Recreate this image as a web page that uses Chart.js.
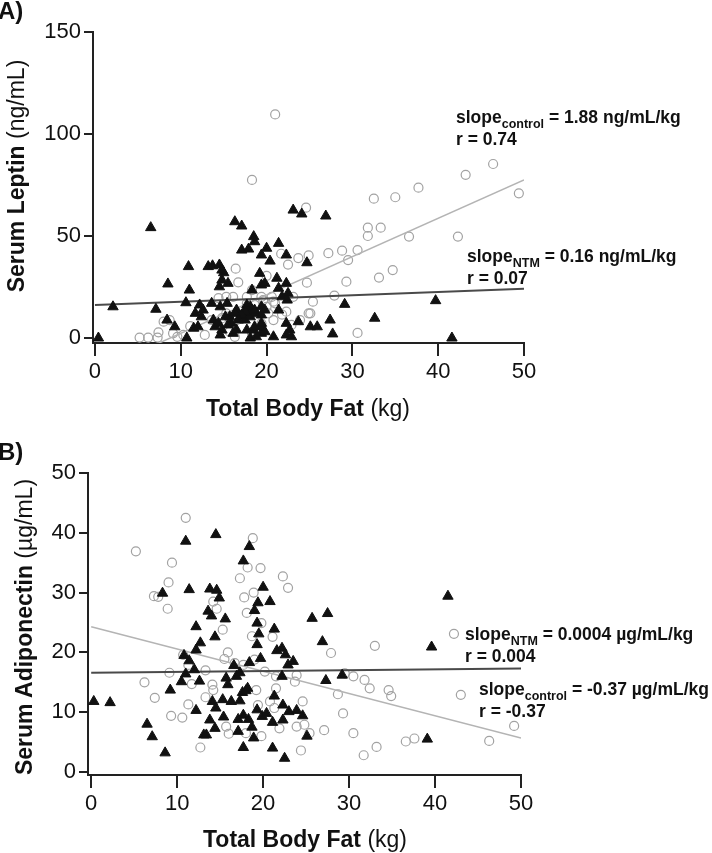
<!DOCTYPE html>
<html>
<head>
<meta charset="utf-8">
<script src="https://cdn.jsdelivr.net/npm/chart.js@4/dist/chart.umd.min.js"></script>
<style>
  html, body { margin: 0; padding: 0; background: #fff; }
  #page { position: relative; width: 712px; height: 853px; overflow: hidden; font-family: "Liberation Sans", Arial, sans-serif; color: #111; }
  canvas { position: absolute; left: 0; }
  .lbl { position: absolute; white-space: nowrap; line-height: 1; }
  .panel { font-weight: bold; font-size: 24px; }
  .xtitle { width: 400px; text-align: center; font-size: 23px; line-height: 23px; }
  .ytitle { font-size: 23px; line-height: 23px; transform: translate(-50%, -50%) rotate(-90deg); }
  .ann { font-weight: bold; font-size: 17.5px; line-height: 22px; }
  .ann sub { font-size: 12.5px; position: relative; top: 5px; vertical-align: baseline; line-height: 0; }
</style>
</head>
<body>
<div id="page">
  <canvas id="leptinChart" width="712" height="420" style="top:0"></canvas>
  <canvas id="adipoChart" width="712" height="433" style="top:420px"></canvas>

  <div class="lbl panel" style="left:-2px; top:-1px">A)</div>
  <div class="lbl ytitle" style="left:16px; top:176px"><b>Serum Leptin</b> (ng/mL)</div>
  <div class="lbl xtitle" style="left:108px; top:397px"><b>Total Body Fat</b> (kg)</div>
  <div class="lbl ann" style="left:456px; top:106px">slope<sub>control</sub> = 1.88 ng/mL/kg<br>r = 0.74</div>
  <div class="lbl ann" style="left:467px; top:245px">slope<sub>NTM</sub> = 0.16 ng/mL/kg<br>r = 0.07</div>

  <div class="lbl panel" style="left:-2px; top:440px">B)</div>
  <div class="lbl ytitle" style="left:24px; top:627px"><b>Serum Adiponectin</b> (µg/mL)</div>
  <div class="lbl xtitle" style="left:105px; top:828px"><b>Total Body Fat</b> (kg)</div>
  <div class="lbl ann" style="left:465px; top:623px">slope<sub>NTM</sub> = 0.0004 µg/mL/kg<br>r = 0.004</div>
  <div class="lbl ann" style="left:479px; top:678px">slope<sub>control</sub> = -0.37 µg/mL/kg<br>r = -0.37</div>
</div>

<script>
// Axis ticks
const fatTicks = [0, 10, 20, 30, 40, 50];
const leptinTicks = [0, 50, 100, 150];
const adipoTicks = [0, 10, 20, 30, 40, 50];

// Panel A: leptin (ng/mL) vs total body fat (kg), [fat, leptin]
const leptinControl = [
    [21.0, 109.6], [18.3, 77.5], [46.4, 85.3], [43.2, 80.0], [49.4, 70.9], [37.7, 73.7],
    [35.0, 69.0], [32.5, 68.3], [31.8, 54.1], [33.3, 54.1], [31.8, 50.0], [36.6, 49.7],
    [42.3, 49.7], [28.8, 42.8], [30.6, 43.1], [29.5, 38.2], [27.2, 41.6], [34.7, 33.3],
    [33.1, 29.6], [29.3, 27.6], [27.9, 20.8], [30.6, 2.5], [24.6, 63.9], [24.9, 40.5],
    [23.7, 39.2], [21.7, 41.3], [22.5, 36.0], [16.4, 34.0], [16.7, 27.3], [24.7, 27.1],
    [20.0, 30.5], [18.3, 23.5], [25.4, 17.8], [24.9, 12.1], [22.3, 12.9], [23.9, 8.8],
    [15.3, 20.2], [16.1, 20.2], [14.4, 19.5], [17.7, 20.2], [19.4, 20.2], [20.8, 17.8],
    [20.0, 15.3], [19.4, 7.2], [20.8, 8.8], [8.0, 8.0], [8.7, 8.8], [7.4, 2.8],
    [5.2, 0.2], [6.2, 0.2], [7.3, 0.2], [9.1, 2.3], [9.6, 0.6], [10.3, 1.5],
    [11.1, 5.8], [12.8, 1.5], [13.6, 8.8], [15.3, 12.1], [16.5, 8.8], [17.9, 12.1],
    [19.0, 12.1], [21.8, 11.5], [20.6, 20.2], [23.1, 20.2], [21.0, 17.0], [20.2, 12.1],
    [25.1, 12.1], [22.9, 6.4], [14.8, 9.7], [15.7, 3.1], [18.3, 2.3], [19.0, 3.1],
    [17.7, 17.0], [18.6, 16.2], [19.6, 18.6], [16.3, 0.6]
];
const leptinNTM = [
    [0.4, 0], [2.1, 15.3], [6.5, 54.1], [7.1, 14.1], [8.5, 26.5], [8.4, 8.8],
    [9.3, 5.5], [10.7, 0], [10.9, 35.0], [11.0, 23.5], [10.6, 17.3], [11.7, 12.1],
    [11.5, 4.8], [12.0, 5.5], [12.4, 10.4], [12.6, 13.7], [12.2, 16.2], [13.2, 35.0],
    [13.7, 35.4], [14.5, 35.8], [15.0, 32.0], [14.8, 28.4], [15.5, 26.8], [14.5, 25.1],
    [13.6, 17.0], [14.6, 15.3], [15.4, 17.0], [13.8, 8.8], [14.0, 5.5], [14.4, 7.2],
    [14.8, 3.9], [14.6, 1.5], [15.7, 10.4], [15.9, 7.2], [16.1, 2.3], [16.5, 3.9],
    [16.3, 57.0], [17.1, 54.9], [17.1, 43.1], [17.9, 43.6], [18.5, 49.7], [18.6, 47.2],
    [19.4, 40.7], [20.0, 44.0], [20.4, 37.7], [21.4, 46.4], [22.3, 40.7], [23.1, 62.7],
    [24.1, 60.8], [26.9, 59.8], [24.7, 36.9], [19.2, 31.7], [19.4, 26.0], [19.8, 26.8],
    [18.3, 23.5], [21.2, 29.3], [21.4, 24.4], [22.3, 26.8], [22.5, 21.9], [21.8, 20.2],
    [22.4, 18.6], [17.7, 16.2], [18.1, 15.3], [17.9, 12.9], [17.3, 12.1], [18.3, 13.7],
    [16.5, 13.7], [16.9, 10.4], [17.5, 8.8], [18.1, 10.4], [18.8, 12.1], [19.4, 15.3],
    [19.8, 13.7], [21.4, 13.7], [17.7, 3.9], [18.5, 3.9], [19.4, 2.3], [18.1, 0],
    [18.8, 0.6], [19.4, 5.5], [19.8, 3.1], [20.8, 0.6], [22.3, 7.2], [22.7, 3.9],
    [22.3, 1.5], [22.9, 0.6], [23.7, 8.0], [25.1, 5.5], [25.9, 5.5], [27.4, 8.8],
    [27.7, 2.0], [29.1, 16.5], [32.6, 9.7], [39.7, 18.3], [41.6, 0], [14.8, 33.3],
    [17.5, 12.9], [17.1, 11.3], [18.6, 13.7], [19.4, 11.3], [16.3, 12.1], [16.7, 8.8],
    [15.5, 6.4], [15.2, 10.4], [18.6, 5.5], [19.4, 7.2]
];
const leptinFitControl = [[0, -16.5], [50, 77.5]];
const leptinFitNTM = [[0, 16.2], [50, 24.2]];

// Panel B: adiponectin (µg/mL) vs total body fat (kg), [fat, adiponectin]
const adipoControl = [
    [5.2, 36.9], [11.0, 42.5], [9.4, 35.0], [9.0, 31.7], [7.3, 29.4], [7.8, 29.3],
    [8.9, 27.3], [18.8, 39.1], [18.2, 34.2], [19.7, 34.1], [17.3, 32.4], [22.3, 32.7],
    [22.9, 30.8], [18.9, 30.0], [17.8, 29.2], [14.2, 28.5], [14.6, 27.3], [18.1, 26.6],
    [15.3, 23.8], [19.8, 24.9], [21.1, 22.6], [18.7, 22.7], [15.9, 20.0], [15.5, 18.9],
    [16.7, 18.2], [17.7, 17.9], [19.0, 18.8], [20.2, 16.8], [21.5, 16.0], [23.9, 16.2],
    [23.7, 15.1], [19.2, 13.7], [21.5, 14.0], [20.8, 11.8], [21.3, 10.7], [19.4, 11.2],
    [24.6, 11.8], [23.9, 7.6], [21.9, 7.3], [24.8, 7.9], [25.4, 6.5], [24.4, 3.6],
    [19.8, 6.0], [18.0, 6.5], [15.7, 7.6], [16.0, 6.4], [12.7, 4.1], [10.6, 9.1],
    [9.3, 9.4], [11.3, 11.3], [7.4, 12.4], [6.2, 15.0], [9.1, 16.6], [13.3, 17.0],
    [13.3, 12.5], [14.2, 13.7], [14.1, 14.6], [11.7, 14.7], [10.7, 19.6], [11.3, 17.9],
    [27.9, 19.9], [27.1, 7.0], [29.3, 9.8], [28.7, 13.0], [29.5, 16.5], [30.5, 16.0],
    [31.8, 15.4], [32.4, 14.0], [33.0, 21.1], [30.5, 6.5], [31.7, 2.8], [33.2, 4.2],
    [42.2, 23.1], [34.6, 13.7], [34.9, 12.7], [43.0, 12.9], [36.6, 5.1], [37.6, 5.6],
    [46.3, 5.2], [49.2, 7.7]
];
const adipoNTM = [
    [0.3, 11.8], [2.2, 11.6], [6.5, 8.0], [7.1, 5.9], [8.6, 3.2], [8.3, 29.9],
    [11.0, 38.6], [11.4, 30.5], [14.5, 39.7], [18.4, 37.7], [17.7, 35.3], [13.8, 30.6],
    [14.6, 30.4], [14.9, 29.1], [20.0, 30.9], [19.4, 28.3], [20.8, 28.5], [13.6, 26.9],
    [19.0, 27.0], [25.7, 25.7], [27.5, 26.5], [9.2, 13.7], [10.8, 19.5], [11.4, 18.6],
    [10.5, 15.1], [11.0, 16.4], [12.0, 17.1], [12.6, 15.2], [12.2, 20.4], [12.7, 21.6],
    [12.2, 24.3], [12.2, 10.3], [14.0, 26.1], [15.6, 25.6], [14.4, 22.6], [14.1, 11.8],
    [14.5, 10.7], [15.3, 12.1], [16.3, 11.8], [17.3, 11.9], [13.8, 8.7], [14.4, 7.3],
    [15.4, 9.2], [13.1, 6.2], [13.4, 6.2], [15.7, 15.7], [15.9, 14.6], [16.6, 17.8],
    [16.9, 16.0], [17.3, 16.6], [17.6, 13.3], [18.0, 13.6], [18.2, 14.0], [17.1, 8.8],
    [17.7, 9.5], [18.3, 8.8], [17.1, 6.8], [17.7, 4.1], [18.7, 7.5], [18.9, 5.7],
    [18.4, 18.3], [19.3, 24.9], [19.5, 23.1], [19.3, 21.3], [19.7, 19.0], [21.3, 23.9],
    [19.3, 10.4], [19.9, 9.3], [20.4, 9.8], [21.1, 8.3], [21.3, 12.7], [22.3, 11.2],
    [22.3, 8.7], [21.1, 4.0], [22.5, 2.3], [21.6, 20.3], [22.2, 20.7], [22.6, 19.6],
    [22.2, 16.0], [22.9, 17.9], [23.5, 18.5], [23.0, 10.1], [23.9, 10.3], [24.6, 9.4],
    [25.1, 6.0], [26.9, 21.8], [27.3, 15.3], [29.2, 16.2], [41.5, 29.4], [39.6, 20.9],
    [39.1, 5.5]
];
const adipoFitControl = [[0, 24.3], [50, 5.7]];
const adipoFitNTM = [[0, 16.6], [50, 17.3]];

const FONT = '"Liberation Sans", Arial, sans-serif';

function toPoints(pairs) {
    return pairs.map(p => ({ x: p[0], y: p[1] }));
}

// Shared axis styling, ticks forced to the listed values
function axisOptions(ticks, min, max, tickLength, fitFn) {
    return {
        type: 'linear',
        min: min,
        max: max,
        afterBuildTicks: scale => { scale.ticks = ticks.map(v => ({ value: v })); },
        afterFit: fitFn,
        grid: { drawOnChartArea: false, color: '#222', lineWidth: 2, tickLength: tickLength },
        border: { display: true, color: '#222', width: 2 },
        ticks: { font: { family: FONT, size: 22 }, color: '#111', padding: 3, maxRotation: 0, autoSkip: false }
    };
}

function buildPanel(canvasId, panel) {
    const ctx = document.getElementById(canvasId);
    return new Chart(ctx, {
        type: 'scatter',
        data: {
            datasets: [
                {
                    label: 'NTM',
                    data: toPoints(panel.ntm),
                    pointStyle: 'triangle',
                    pointRadius: 6,
                    backgroundColor: '#111',
                    borderColor: '#111',
                    borderWidth: 1,
                    clip: false
                },
                {
                    label: 'NTM fit',
                    data: toPoints(panel.fitNtm),
                    showLine: true,
                    pointRadius: 0,
                    borderColor: '#4a4a4a',
                    borderWidth: 2
                },
                {
                    label: 'Control fit',
                    data: toPoints(panel.fitControl),
                    showLine: true,
                    pointRadius: 0,
                    borderColor: '#b4b4b4',
                    borderWidth: 1.5
                },
                {
                    label: 'Control',
                    data: toPoints(panel.control),
                    pointStyle: 'circle',
                    pointRadius: 4.5,
                    backgroundColor: 'rgba(0,0,0,0)',
                    borderColor: '#a2a2a2',
                    borderWidth: 1.2,
                    clip: false
                }
            ]
        },
        options: {
            responsive: false,
            animation: false,
            devicePixelRatio: 1,
            layout: { padding: panel.padding },
            plugins: { legend: { display: false }, tooltip: { enabled: false } },
            scales: {
                x: axisOptions(fatTicks, panel.xMin, 50, 13, s => { s.height = panel.xHeight; }),
                y: axisOptions(panel.yTicks, panel.yMin, panel.yMax, 9, s => { s.width = panel.yWidth; })
            }
        }
    });
}

buildPanel('leptinChart', {
    ntm: leptinNTM, control: leptinControl,
    fitNtm: leptinFitNTM, fitControl: leptinFitControl,
    yTicks: leptinTicks, yMin: -2.45, yMax: 150, xMin: -0.23,
    padding: { top: 32, right: 188, left: 0, bottom: 0 },
    xHeight: 77, yWidth: 93
});

buildPanel('adipoChart', {
    ntm: adipoNTM, control: adipoControl,
    fitNtm: adipoFitNTM, fitControl: adipoFitControl,
    yTicks: adipoTicks, yMin: -0.5, yMax: 50, xMin: -0.37,
    padding: { top: 53, right: 191, left: 0, bottom: 0 },
    xHeight: 78, yWidth: 88
});
</script>
</body>
</html>
